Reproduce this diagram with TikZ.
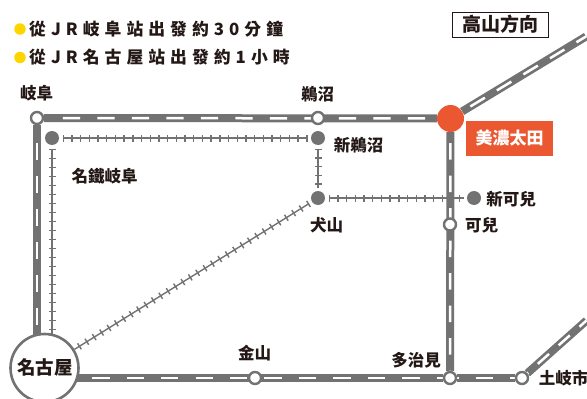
\documentclass[tikz,border=0pt]{standalone}
\usepackage{fontspec}
\setmainfont{Noto Sans CJK TC}
\newfontfamily\hdfont[LetterSpace=30]{Noto Sans CJK TC}
\usetikzlibrary{backgrounds}
\definecolor{trk}{HTML}{727272}
\definecolor{ink}{HTML}{231815}
\definecolor{ora}{HTML}{EA5730}
\definecolor{yel}{HTML}{FFD500}
\tikzset{
  stn/.style={circle,draw=trk,line width=2.4pt,fill=white,inner sep=0pt,minimum size=12pt},
  dot/.style={circle,fill=trk,inner sep=0pt,minimum size=14pt,outer sep=3.5pt},
  lbl/.style={text=ink,font=\fontsize{16.5}{16.5}\selectfont\bfseries,inner sep=0pt},
  hdr/.style={text=ink,font=\fontsize{16.8}{16.8}\hdfont\bfseries,inner sep=0pt,anchor=west},
  bul/.style={circle,fill=yel,inner sep=0pt,minimum size=11.5pt},
  jr/.style={draw=trk,line width=8pt},
  jrw/.style={draw=white,line width=2.5pt},
  mrail/.style={draw=trk,line width=1.4pt},
}
\newcommand{\jrline}[3]{% from, to, dash spec
  \path[jr] #1 -- #2;
  \path[jrw,#3] #1 -- #2;
}
\newcommand{\mline}[3]{% from, to, gap
  \path[mrail] (#1) -- (#2);
  \path[draw=trk,line width=7pt,dash pattern=on 1.4pt off #3pt] (#1) -- (#2);
}
\begin{document}
\begin{tikzpicture}[x=1pt,y=-1pt]
\useasboundingbox (0,0) rectangle (587,399);
\clip (0,0) rectangle (587,399);
% stations
\node[stn] (gifu) at (37,118) {};
\node[stn] (unuma) at (318,118) {};
\node[circle,fill=ora,inner sep=0pt,minimum size=27pt] (ota) at (450.5,118.5) {};
\node[stn] (kani) at (450,224.5) {};
\node[stn] (tajimi) at (450,378) {};
\node[stn] (kanayama) at (255,378) {};
\node[stn] (toki) at (522,378) {};
\node[circle,draw=trk,line width=2.6pt,fill=white,inner sep=0pt,minimum size=68pt] (nagoya) at (44.5,368) {};
\coordinate (nagoyaN) at (37,345);
\coordinate (nagoyaT) at (52,345);
\coordinate (nagoyaE) at (60,378);
\coordinate (takayama) at (586,36.5);
\coordinate (tokiend) at (586.5,320.5);
% private railway dots
\node[dot] (meigifu) at (52,138) {};
\node[dot] (shinunuma) at (318,138) {};
\node[dot] (inuyama) at (318,198) {};
\node[dot] (shinkani) at (474,198) {};
\begin{pgfonlayer}{background}
  % private railway
  \mline{meigifu}{shinunuma}{7.3}
  \mline{meigifu}{nagoyaT}{7.6}
  \mline{shinunuma}{inuyama}{7.3}
  \mline{inuyama}{shinkani}{7.3}
  \mline{inuyama}{nagoya}{7.3}
  % JR
  \jrline{(gifu)}{(ota)}{shorten <=9pt,dash pattern=on 17.3pt off 17.2pt,dash phase=24.8pt}
  \jrline{(gifu)}{(nagoyaN)}{shorten <=9pt,dash pattern=on 17pt off 16pt,dash phase=24pt}
  \jrline{(nagoyaE)}{(tajimi)}{dash pattern=on 17.3pt off 17.14pt,dash phase=2.2pt}
  \jrline{(tajimi)}{(toki)}{dash pattern=on 17.3pt off 17.14pt,dash phase=15.6pt}
  \jrline{(ota)}{(tajimi)}{dash pattern=on 16.5pt off 16pt,dash phase=21.5pt}
  \jrline{(ota)}{(takayama)}{dash pattern=on 17pt off 14pt,dash phase=21.5pt}
  \jrline{(toki)}{(tokiend)}{dash pattern=on 15pt off 12.9pt,dash phase=13.9pt}
\end{pgfonlayer}
% labels
\node[lbl] (lgifu) at (36.5,93) {岐阜};
\node[lbl] (lunuma) at (317.5,94) {鵜沼};
\node[lbl] (lshinunuma) at (358.5,145) {新鵜沼};
\node[lbl] (lmeigifu) at (104.5,176) {名鐵岐阜};
\node[lbl] (linuyama) at (326.5,225.5) {犬山};
\node[lbl] (lshinkani) at (511,199) {新可兒};
\node[lbl] (lkani) at (481.5,225) {可兒};
\node[lbl] (lkanayama) at (254.5,353) {金山};
\node[lbl] (ltajimi) at (416,360) {多治見};
\node[lbl] (ltoki) at (563.5,378) {土岐市};
\node[lbl,font=\fontsize{18.5}{18.5}\selectfont\bfseries] (lnagoya) at (45,367) {名古屋};
\node[fill=ora,text=white,font=\fontsize{17}{17}\selectfont\bfseries,minimum width=87pt,minimum height=35pt,inner sep=0pt] (lota) at (509.5,138.5) {美濃太田};
\node[draw=ink,line width=0.8pt,text=ink,font=\fontsize{19}{19}\selectfont\bfseries,minimum width=96pt,minimum height=25pt,inner sep=0pt] (ltaka) at (500,24.5) {高山方向};
% header
\node[bul] (b1) at (20,29) {};
\node[bul] (b2) at (20,57.5) {};
\node[hdr] (h1) at (29,29) {從JR岐阜站出發約30分鐘};
\node[hdr] (h2) at (29,57.5) {從JR名古屋站出發約1小時};
\end{tikzpicture}
\end{document}
